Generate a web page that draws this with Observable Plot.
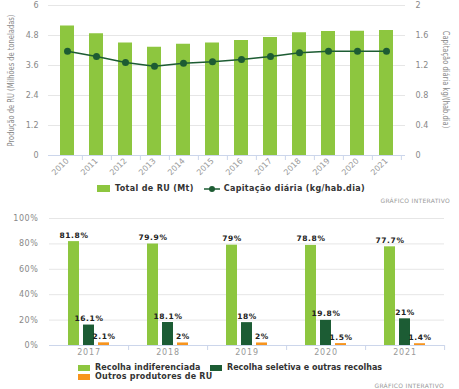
<!DOCTYPE html>
<html>
<head>
<meta charset="utf-8">
<script src="https://cdn.jsdelivr.net/npm/d3@7"></script>
<script src="https://cdn.jsdelivr.net/npm/@observablehq/plot@0.6"></script>
<style>
  body { margin: 0; background: #fff; font-family: "DejaVu Sans", sans-serif; }
  #wrap { position: relative; width: 459px; height: 389px; overflow: hidden; }
  .abs { position: absolute; }
  .ytitle { position: absolute; font-family: "DejaVu Sans", sans-serif; font-size: 8px; color: #888; white-space: nowrap; transform-origin: center center; }
  .legend { position: absolute; font-family: "DejaVu Sans", sans-serif; font-size: 8px; font-weight: bold; color: #333; white-space: nowrap; display: flex; align-items: center; }
  .sw { display: inline-block; width: 13px; height: 7px; margin-right: 5px; }
  .credit { position: absolute; font-family: "DejaVu Sans", sans-serif; font-size: 6px; color: #999; letter-spacing: 0.3px; white-space: nowrap; }
  #bottomChart g[font-weight="bold"] text { letter-spacing: 0.6px; }
  #bottomChart g[aria-label="fx-axis tick label"], #bottomChart g[aria-label="fx-axis tick label"] text { letter-spacing: 0.8px; fill: #999; font-weight: normal; }
  #topChart g[aria-label="x-axis tick label"], #topChart g[aria-label="x-axis tick label"] text { fill: #999; font-weight: normal; }
  #bottomChart g[aria-label="y-axis tick label"] text { letter-spacing: 0.6px; }
</style>
</head>
<body>
<div id="wrap">
  <div id="topChart" class="abs" style="left:0;top:0"></div>
  <div class="ytitle" id="t1">Produção de RU (Milhões de toneladas)</div>
  <div class="ytitle" id="t2">Capitação diária kg/(hab.dia)</div>
  <div class="legend" style="left:97px;top:184px;letter-spacing:0.35px">
    <span class="sw" style="background:#8dc63f"></span><span>Total de RU (Mt)</span>
    <svg width="16" height="8" style="margin-left:10px;margin-right:4px"><line x1="0" y1="4" x2="16" y2="4" stroke="#1d5c33" stroke-width="1.5"/><circle cx="8" cy="4" r="3" fill="#1d5c33"/></svg><span>Capitação diária (kg/hab.dia)</span>
  </div>
  <div class="credit" style="right:9px;top:197px">GRÁFICO INTERATIVO</div>
  <div id="bottomChart" class="abs" style="left:0;top:207px"></div>
  <div class="legend" style="left:78px;top:363px;letter-spacing:0.1px">
    <span class="sw" style="background:#8dc63f;width:12px;height:6px"></span><span>Recolha indiferenciada</span>
  </div>
  <div class="legend" style="left:210px;top:363px">
    <span class="sw" style="background:#1c5c34;width:12px;height:6px"></span><span>Recolha seletiva e outras recolhas</span>
  </div>
  <div class="legend" style="left:78px;top:372px;letter-spacing:0.2px">
    <span class="sw" style="background:#f7941d;width:12px;height:6px"></span><span>Outros produtores de RU</span>
  </div>
  <div class="credit" style="right:15px;top:382px">GRÁFICO INTERATIVO</div>
</div>
<script>
// ---- Top chart data ----
const years = ["2010","2011","2012","2013","2014","2015","2016","2017","2018","2019","2020","2021"];
const totalRU = [5.18, 4.87, 4.50, 4.33, 4.45, 4.50, 4.60, 4.72, 4.91, 4.96, 4.97, 5.00];
const capitacao = [1.39, 1.32, 1.24, 1.19, 1.23, 1.25, 1.28, 1.32, 1.37, 1.39, 1.39, 1.39];
const leftTicks = [0, 1.2, 2.4, 3.6, 4.8, 6];
const rightTicks = [0, 0.4, 0.8, 1.2, 1.6, 2];

// ---- Bottom chart data ----
const bYears = ["2017","2018","2019","2020","2021"];
const seriesNames = ["Recolha indiferenciada","Recolha seletiva e outras recolhas","Outros produtores de RU"];
const indiferenciada = [81.8, 79.9, 79, 78.8, 77.7];
const seletiva = [16.1, 18.1, 18, 19.8, 21];
const outros = [2.1, 2, 2, 1.5, 1.4];
const pctTicks = [0, 20, 40, 60, 80, 100];

const lightGreen = "#8dc63f", darkGreen = "#1c5c34", orange = "#f7941d";
const axisColor = "#ccd6eb", gridColor = "#e6e6e6", tickText = "#888";

const ratio = 3; // right axis max 2 vs left max 6
const topData = years.map((y, i) => ({year: y, total: totalRU[i], cap: capitacao[i]}));

const W = 459, mL = 48, mR = 54;
const step = (W - mL - mR) / years.length;

const topPlot = Plot.plot({
  width: W, height: 180,
  marginLeft: mL, marginRight: mR, marginTop: 5, marginBottom: 25,
  style: {fontFamily: "DejaVu Sans, sans-serif", fontSize: "8px", color: tickText, background: "white"},
  x: {domain: years, paddingInner: 0.53, paddingOuter: 0.265},
  y: {domain: [0, 6]},
  marks: [
    Plot.gridY(leftTicks, {stroke: gridColor, strokeOpacity: 1}),
    Plot.barY(topData, {x: "year", y: "total", fill: lightGreen}),
    Plot.ruleY([0], {stroke: axisColor}),
    Plot.axisX({tickSize: 0, tickRotate: -45, tickPadding: 4, label: null, fill: tickText}),
    Plot.axisX({tickSize: 5, text: null, tickFormat: () => "", dx: step / 2, stroke: axisColor, label: null}),
    Plot.axisY({ticks: leftTicks, tickSize: 0, tickPadding: 10, label: null, tickFormat: d => String(d), fill: tickText}),
    Plot.axisY({anchor: "right", ticks: leftTicks, tickSize: 0, tickPadding: 10, label: null, tickFormat: d => String(+(d / ratio).toFixed(1)), fill: tickText}),
    Plot.line(topData, {x: "year", y: d => d.cap * ratio, stroke: "#1d5c33", strokeWidth: 1.5}),
    Plot.dot(topData, {x: "year", y: d => d.cap * ratio, r: 3.5, fill: "#1d5c33"})
  ]
});
document.getElementById("topChart").appendChild(topPlot);

// bottom chart
const bData = [];
bYears.forEach((y, i) => {
  bData.push({year: y, series: seriesNames[0], value: indiferenciada[i]});
  bData.push({year: y, series: seriesNames[1], value: seletiva[i]});
  bData.push({year: y, series: seriesNames[2], value: outros[i]});
});
const bmR = 15;
const fstep = (W - mL - bmR) / bYears.length;

const bottomPlot = Plot.plot({
  width: W, height: 153,
  marginLeft: mL, marginRight: bmR, marginTop: 11, marginBottom: 15,
  style: {fontFamily: "DejaVu Sans, sans-serif", fontSize: "8px", color: tickText, background: "white"},
  fx: {domain: bYears, padding: 0},
  x: {domain: seriesNames, paddingInner: 0.25, paddingOuter: 1.1, axis: null},
  y: {domain: [0, 100]},
  color: {domain: seriesNames, range: [lightGreen, darkGreen, orange]},
  marks: [
    Plot.gridY(pctTicks, {stroke: gridColor, strokeOpacity: 1}),
    Plot.barY(bData, {fx: "year", x: "series", y: "value", fill: "series"}),
    Plot.text(bData, {fx: "year", x: "series", y: "value", text: d => d.value + "%", dy: -4, lineAnchor: "bottom", fontWeight: "bold", fill: "#222", fontSize: 7.5}),
    Plot.ruleY([0], {stroke: axisColor}),
    Plot.axisFx({anchor: "bottom", tickSize: 0, tickPadding: 4, label: null, fill: tickText}),
    Plot.axisFx({anchor: "bottom", tickSize: 5, text: null, tickFormat: () => "", dx: fstep / 2, stroke: axisColor, label: null}),
    Plot.axisY({ticks: pctTicks, tickSize: 0, tickPadding: 11, label: null, tickFormat: d => d + "%", fill: tickText})
  ]
});
document.getElementById("bottomChart").appendChild(bottomPlot);

// axis titles (HTML text, rotated)
function placeTitle(el, cx, cy, deg) {
  const w = el.offsetWidth, h = el.offsetHeight;
  el.style.left = (cx - w / 2) + "px";
  el.style.top = (cy - h / 2) + "px";
  el.style.transform = `rotate(${deg}deg) scaleX(0.84)`;
}
placeTitle(document.getElementById("t1"), 11, 80, -90);
placeTitle(document.getElementById("t2"), 445, 79, 90);
</script>
</body>
</html>
